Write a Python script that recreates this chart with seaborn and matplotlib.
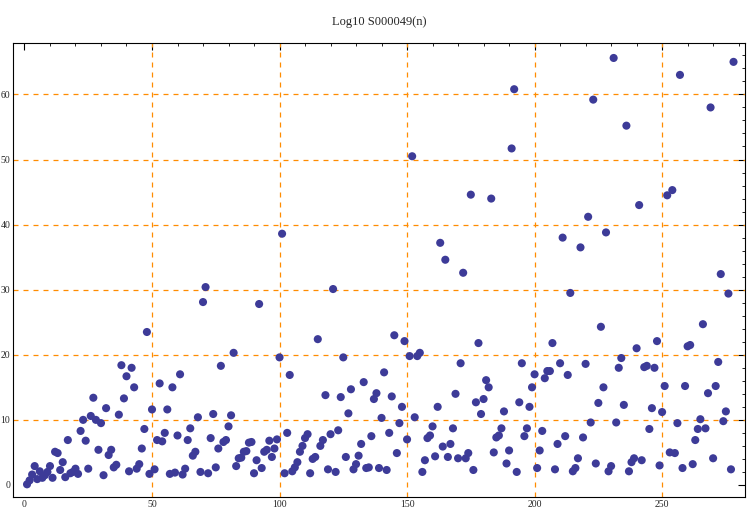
import numpy as np
import pandas as pd
import matplotlib
matplotlib.use("Agg")
import matplotlib.pyplot as plt
from matplotlib.ticker import MultipleLocator
import seaborn as sns

# values, n = 1..278
n_vals = list(range(1, 279))
log_vals = [
    0.1, 0.7, 1.6, 2.9, 0.9, 2.1, 1.1, 1.5, 2.0, 2.9,
    1.1, 5.1, 4.9, 2.3, 3.5, 1.2, 6.9, 1.8, 2.0, 2.5,
    1.7, 8.3, 10.0, 6.8, 2.5, 10.6, 13.4, 10.0, 5.4, 9.5,
    1.5, 11.8, 4.6, 5.4, 2.7, 3.1, 10.8, 18.4, 13.3, 16.7,
    2.1, 18.0, 15.0, 2.5, 3.2, 5.6, 8.6, 23.5, 1.7, 11.6,
    2.4, 6.9, 15.6, 6.7, 8.0, 11.6, 1.7, 15.0, 1.9, 7.6,
    17.0, 1.6, 2.5, 6.9, 8.7, 4.5, 5.1, 10.4, 2.0, 28.1,
    30.4, 1.8, 7.2, 10.9, 2.7, 5.6, 18.3, 6.6, 6.9, 9.0,
    10.7, 20.3, 2.9, 4.1, 4.2, 5.1, 5.2, 6.5, 6.6, 1.8,
    3.8, 27.8, 2.6, 5.1, 5.4, 6.8, 4.3, 5.6, 7.0, 19.6,
    38.6, 1.8, 8.0, 16.9, 2.1, 2.7, 3.5, 5.1, 6.0, 7.2,
    7.8, 1.8, 4.0, 4.3, 22.4, 6.0, 6.9, 13.8, 2.4, 7.8,
    30.1, 2.0, 8.4, 13.5, 19.6, 4.3, 11.0, 14.7, 2.4, 3.2,
    4.5, 6.3, 15.8, 2.6, 2.7, 7.5, 13.2, 14.1, 2.6, 10.3,
    17.3, 2.3, 8.0, 13.6, 23.0, 4.9, 9.5, 12.0, 22.1, 7.0,
    19.8, 50.5, 10.4, 19.8, 20.3, 2.0, 3.8, 7.2, 7.6, 9.0,
    4.4, 12.0, 37.2, 5.9, 34.6, 4.3, 6.3, 8.7, 14.0, 4.1,
    18.7, 32.6, 4.1, 4.9, 44.6, 2.3, 12.7, 21.8, 10.9, 13.2,
    16.1, 15.0, 44.0, 5.0, 7.3, 7.6, 8.7, 11.3, 3.3, 5.3,
    51.7, 60.8, 2.0, 12.7, 18.7, 7.5, 8.7, 12.0, 15.0, 17.0,
    2.6, 5.3, 8.3, 16.4, 17.5, 17.5, 21.8, 2.4, 6.3, 18.7,
    38.0, 7.5, 16.9, 29.5, 2.1, 2.6, 4.1, 36.5, 7.3, 18.6,
    41.2, 9.6, 59.2, 3.3, 12.6, 24.3, 15.0, 38.8, 2.1, 2.9,
    65.6, 9.6, 18.0, 19.5, 12.3, 55.2, 2.1, 3.5, 4.1, 21.0,
    43.0, 3.8, 18.1, 18.3, 8.6, 11.8, 18.0, 22.1, 3.0, 11.2,
    15.2, 44.5, 5.0, 45.3, 4.9, 9.5, 63.0, 2.6, 15.2, 21.3,
    21.5, 3.2, 6.9, 8.6, 10.1, 24.7, 8.7, 14.1, 58.0, 4.1,
    15.2, 18.9, 32.4, 9.8, 11.3, 29.4, 2.4, 65.0,
]

df = pd.DataFrame({"n": n_vals, "v": log_vals})

sns.set_style("white")
plt.rcParams['font.family'] = ['Liberation Serif', 'DejaVu Serif']

fig = plt.figure(figsize=(7.5, 5.12), dpi=100)
ax = fig.add_axes([13 / 750, 1 - 497 / 512, (745 - 13) / 750, (497 - 43) / 512])

grid_kw = dict(color="#ff8c00", lw=0.9, dashes=(4, 4), zorder=1)
for gx in [50, 100, 150, 200, 250]:
    ax.axvline(gx, **grid_kw)
for gy in [10, 20, 30, 40, 50, 60]:
    ax.axhline(gy, **grid_kw)

sns.scatterplot(data=df, x="n", y="v", ax=ax, color="#3d3b98", s=34,
                edgecolor="none", zorder=3, legend=False)

ax.set_xlim(-4.5, 282.5)
ax.set_ylim(-1.85, 67.9)
ax.set_xlabel("")
ax.set_ylabel("")
ax.set_title("Log10 S000049(n)", fontsize=9, pad=13)

ax.xaxis.set_major_locator(MultipleLocator(50))
ax.xaxis.set_minor_locator(MultipleLocator(10))
ax.yaxis.set_major_locator(MultipleLocator(10))
ax.yaxis.set_minor_locator(MultipleLocator(2))
ax.tick_params(which="both", direction="in", top=True, right=True,
               labeltop=False, labelright=False, color="black")
ax.tick_params(which="major", length=5, width=0.8, labelsize=7, pad=2)
ax.tick_params(which="minor", length=2.5, width=0.6)
for sp in ax.spines.values():
    sp.set_color("black")
    sp.set_linewidth(0.8)

fig.savefig("out.png", dpi=100)
